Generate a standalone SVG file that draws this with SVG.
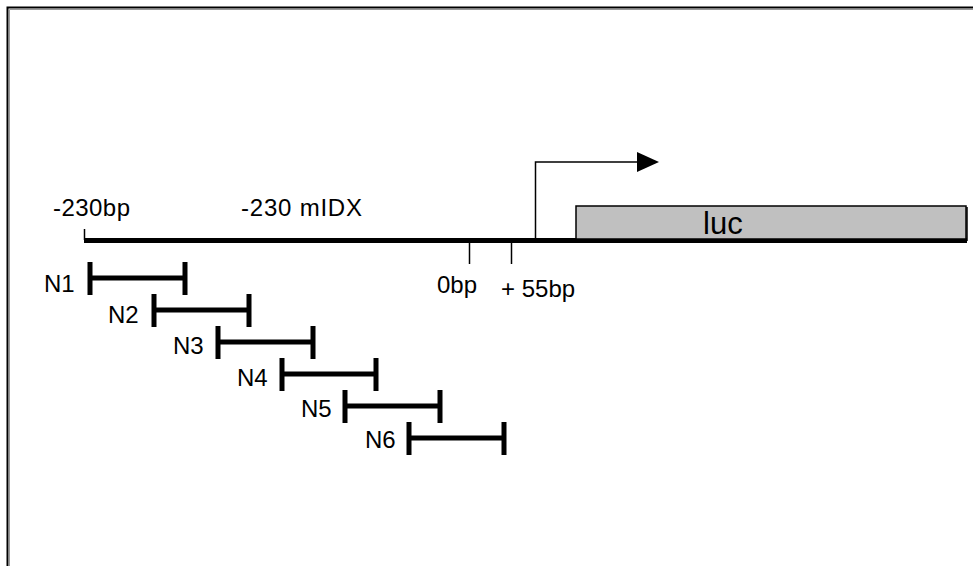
<svg xmlns="http://www.w3.org/2000/svg" width="973" height="566" viewBox="0 0 973 566">
  <defs>
    <style>
      text { font-family: "Liberation Sans", Arial, sans-serif; fill: #000; }
      .lbl { font-size: 24px; }
      .n { font-size: 24px; }
      .bar { stroke: #000; stroke-width: 5; fill: none; }
      .thin { stroke: #000; stroke-width: 1.5; fill: none; }
    </style>
    <marker id="arrow" viewBox="0 0 22 20" refX="1" refY="10" markerWidth="22" markerHeight="20" markerUnits="userSpaceOnUse" orient="auto">
      <path d="M0,0 L22,10 L0,20 Z" fill="#000"/>
    </marker>
  </defs>
  <rect width="973" height="566" fill="#fff"/>
  <!-- frame -->
  <path d="M7.5,566 V7.5 H973" fill="none" stroke="#000" stroke-width="2"/>
  <path d="M9.5,566 V9.5 H973" fill="none" stroke="#999" stroke-width="1"/>

  <g id="connectors">
    <line class="bar" x1="84" y1="240.5" x2="967" y2="240.5"/>
    <line class="thin" x1="84.5" y1="229" x2="84.5" y2="240"/>
    <line class="thin" x1="469.5" y1="243" x2="469.5" y2="264"/>
    <line class="thin" x1="511.5" y1="243" x2="511.5" y2="264"/>
    <path class="thin" d="M535.5,239 V162 H638" marker-end="url(#arrow)"/>
  </g>

  <g id="luc">
    <rect x="576" y="206" width="390" height="33" fill="#c0c0c0" stroke="#000" stroke-width="1.5"/>
    <line x1="967" y1="207" x2="967" y2="241" stroke="#000" stroke-width="1.5"/>
    <text x="703" y="234" style="font-size:31px">luc</text>
  </g>

  <g id="labels">
    <text class="lbl" x="53" y="216" textLength="77" lengthAdjust="spacing">-230bp</text>
    <text class="lbl" x="241" y="216" textLength="121" lengthAdjust="spacing">-230 mIDX</text>
    <text class="lbl" x="437" y="293">0bp</text>
    <text class="lbl" x="501" y="297">+ 55bp</text>
  </g>

  <g id="N1">
    <path class="bar" d="M90,262 V295 M90,278 H185 M185,262 V295"/>
    <text class="n" x="44" y="292">N1</text>
  </g>
  <g id="N2">
    <path class="bar" d="M154,294 V327 M154,310 H249 M249,294 V327"/>
    <text class="n" x="108" y="323">N2</text>
  </g>
  <g id="N3">
    <path class="bar" d="M218,326 V359 M218,342 H313 M313,326 V359"/>
    <text class="n" x="173" y="354">N3</text>
  </g>
  <g id="N4">
    <path class="bar" d="M282,358 V391 M282,374 H376 M376,358 V391"/>
    <text class="n" x="237" y="386">N4</text>
  </g>
  <g id="N5">
    <path class="bar" d="M345,390 V423 M345,406 H440 M440,390 V423"/>
    <text class="n" x="301" y="417">N5</text>
  </g>
  <g id="N6">
    <path class="bar" d="M409,422 V455 M409,438 H504 M504,422 V455"/>
    <text class="n" x="365" y="448">N6</text>
  </g>
</svg>
